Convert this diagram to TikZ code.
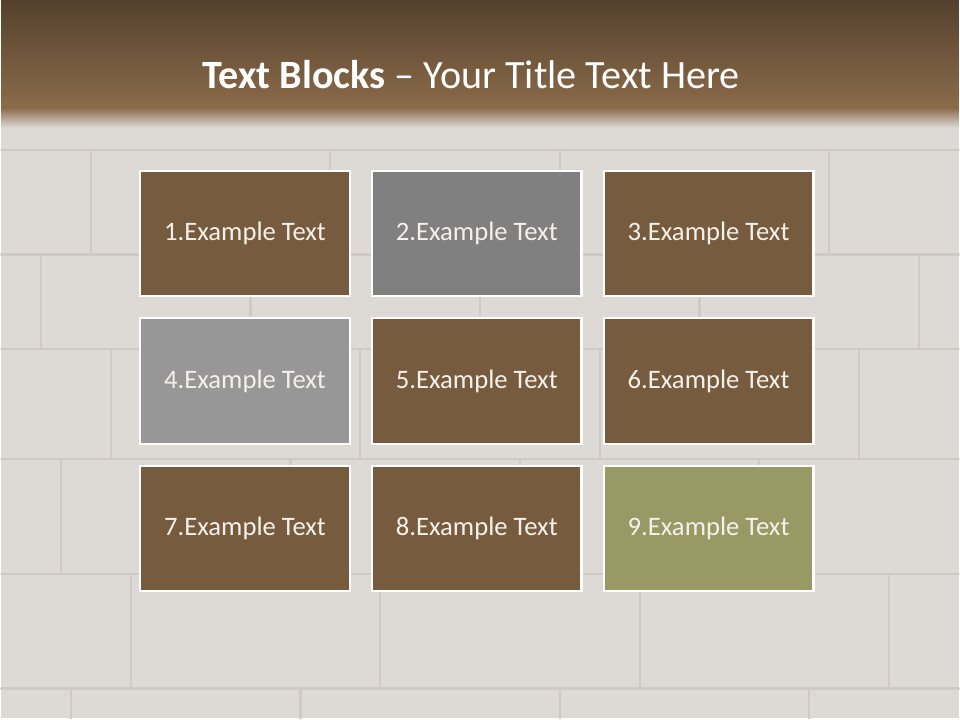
\documentclass[tikz,border=0pt]{standalone}
\usepackage{fontspec}
\setmainfont{Carlito}
\usepackage{tikz}
\usetikzlibrary{positioning}
\definecolor{barTop}{HTML}{54412D}
\definecolor{barBot}{HTML}{8B6B4A}
\definecolor{stone}{HTML}{DDD9D4}
\definecolor{mortar}{HTML}{CFCAC4}
\definecolor{boxBrown}{HTML}{775B3E}
\definecolor{boxGrey}{HTML}{808080}
\definecolor{boxLight}{HTML}{979797}
\definecolor{boxOlive}{HTML}{999966}
\definecolor{txt}{HTML}{F4F1EA}

\begin{document}
\begin{tikzpicture}[x=0.025cm, y=-0.025cm,
    block/.style={draw=white, line width=1.6pt, minimum width=5.25cm, minimum height=3.14cm,
                  inner sep=0pt, text=txt, font=\fontsize{19}{22}\selectfont},
    joint/.style={mortar, line width=1.6pt, line cap=round}]
    % Wall
    \fill[stone] (0,0) rectangle (960,720);
    \foreach \y in {150, 255, 350, 460, 575, 690}
        \draw[joint] (0,\y) -- (960,\y);
    \foreach \x/\ya/\yb in {90/150/255, 330/150/255, 560/150/255, 830/150/255,
                            40/255/350, 250/255/350, 480/255/350, 700/255/350, 920/255/350,
                            110/350/460, 360/350/460, 600/350/460, 860/350/460,
                            60/460/575, 290/460/575, 520/460/575, 760/460/575,
                            130/575/690, 380/575/690, 640/575/690, 890/575/690,
                            70/690/720, 300/690/720, 560/690/720, 810/690/720}
        \draw[joint] (\x,\ya) -- (\x,\yb);

    % Title bar
    \shade[top color=barTop, bottom color=barBot] (0,0) rectangle (960,108);
    \shade[top color=barBot, bottom color=stone] (0,108) rectangle (960,128);
    \node[text=white, font=\fontsize{28.6}{32}\selectfont] (title) at (471,75)
        {\textbf{Text Blocks} – Your Title Text Here};

    % Blocks
    \node[block, fill=boxBrown] (b1) at (244.5,234) {1.Example Text};
    \node[block, fill=boxGrey, right=0.5cm of b1] (b2) {2.Example Text};
    \node[block, fill=boxBrown, right=0.5cm of b2] (b3) {3.Example Text};
    \node[block, fill=boxLight, below=0.5cm of b1] (b4) {4.Example Text};
    \node[block, fill=boxBrown, right=0.5cm of b4] (b5) {5.Example Text};
    \node[block, fill=boxBrown, right=0.5cm of b5] (b6) {6.Example Text};
    \node[block, fill=boxBrown, below=0.5cm of b4] (b7) {7.Example Text};
    \node[block, fill=boxBrown, right=0.5cm of b7] (b8) {8.Example Text};
    \node[block, fill=boxOlive, right=0.5cm of b8] (b9) {9.Example Text};
\end{tikzpicture}
\end{document}
